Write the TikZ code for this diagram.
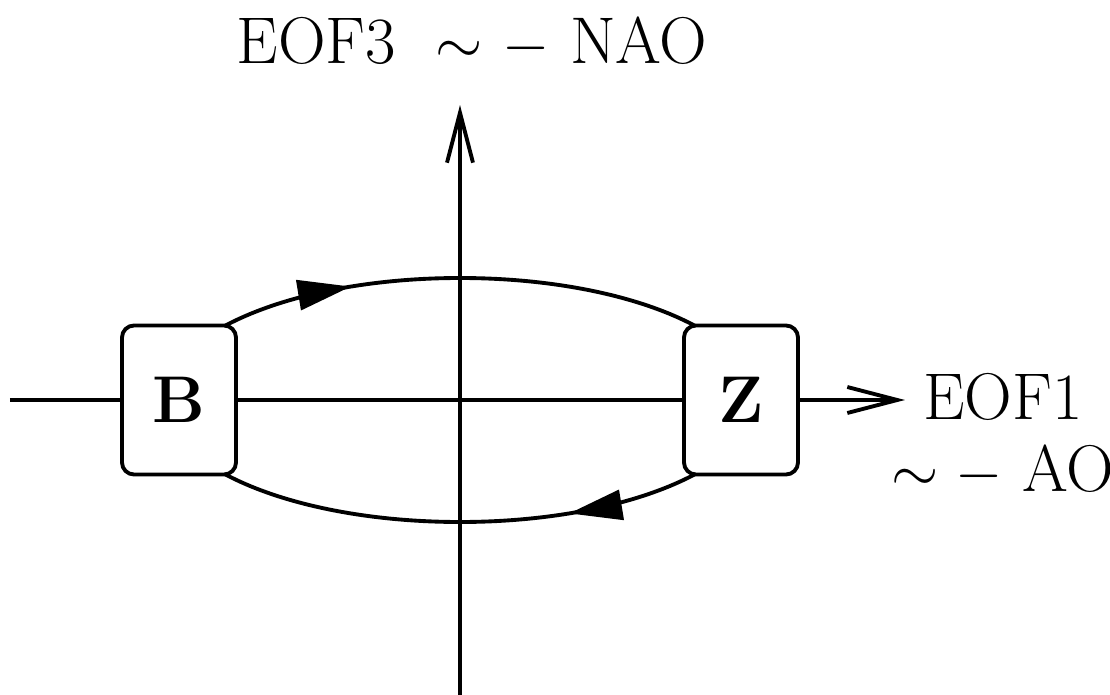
\documentclass[tikz,border=0pt]{standalone}
\usepackage{amsmath}
\usetikzlibrary{positioning}
\usetikzlibrary{arrows.meta,decorations.markings}

\begin{document}
\begin{tikzpicture}[line width=1.1pt,
    bigfont/.style={font=\fontsize{18.8}{20.5}\selectfont},
    regime/.style={draw, fill=white, rounded corners=1.2mm, minimum width=1.14cm, minimum height=1.49cm, font=\fontsize{18.8}{20.5}\selectfont\bfseries},
    axisarrow/.style={-{Straight Barb[length=5mm,width=2.6mm]}},
    flowarrow/.style={postaction=decorate, decoration={markings, mark=at position 0.34 with {\arrow{Triangle[length=5.3mm,width=3mm]}}}}]
    \useasboundingbox (-4.6,-2.95) rectangle (6.5,4.0);

    % axes
    \coordinate (xstart) at (-4.5,0);
    \coordinate (xtip) at (4.45,0);
    \coordinate (ybot) at (0,-2.95);
    \coordinate (ytip) at (0,2.95);
    \draw[axisarrow] (ybot) -- (ytip);

    % cycle between the two regimes
    \draw[flowarrow] (-2.96,0) arc[start angle=180, end angle=0, x radius=2.96, y radius=1.22];
    \draw[flowarrow] (2.96,0) arc[start angle=0, end angle=-180, x radius=2.96, y radius=1.22];

    \node[regime] (B) at (-2.81,0) {B};
    \node[regime] (Z) at (2.81,0) {Z};

    \draw (xstart) -- (B);
    \draw (B) -- (Z);
    \draw[axisarrow] (Z) -- (xtip);

    \node[bigfont] (eofthree) at (0.12,3.57) {EOF3 \ $\sim$ $-$ NAO};
    \node[bigfont, align=center] (eofone) at (5.43,-0.35) {EOF1\\$\sim -$ AO};

\end{tikzpicture}
\end{document}
